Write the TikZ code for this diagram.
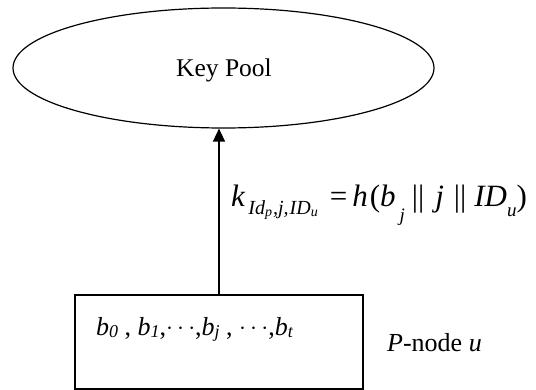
\documentclass[tikz,border=0pt]{standalone}
\usepackage{fontspec}
\setmainfont{Liberation Serif}
\usetikzlibrary{shapes.geometric,arrows.meta}
\newcommand{\lowsub}[3]{\raisebox{-#1pt}{\fontsize{#2}{#2}\selectfont\textit{#3}}}
\tikzset{
  line/.style={line width=1.4pt},
  poolshape/.style={ellipse, draw, line width=1.2pt, minimum width=421pt, minimum height=120pt, inner sep=0pt},
  boxshape/.style={rectangle, draw, line width=1.4pt, minimum width=288pt, minimum height=94pt, inner sep=0pt},
  lbl/.style={inner sep=0pt, anchor=base west, font=\fontsize{26}{30}\selectfont},
}
\begin{document}
\begin{tikzpicture}[x=1pt,y=-1pt]
\useasboundingbox (0,0) rectangle (536,390);
\node[poolshape] (pool) at (223.5,68) {};
\node[inner sep=0pt, font=\fontsize{25.5}{30}\selectfont] (pooltxt) at (224,70) {Key Pool};
\node[boxshape] (box) at (219,342) {};
\node[lbl] (bits) at (96,335)
  {\textit{b}\lowsub{2}{18}{0} , \textit{b}\lowsub{2}{18}{1},\raisebox{1pt}{$\cdots$},\textit{b}\lowsub{2}{18}{j} , \raisebox{1pt}{$\cdots$},\textit{b}\lowsub{2}{18}{t}};
\node[lbl] (pnode) at (387,352) {\textit{P}-node \textit{u}};
\node[lbl, font=\fontsize{31}{36}\selectfont] (formula) at (231,207)
  {\textit{k}\hspace{3pt}\raisebox{-8pt}{\fontsize{20}{20}\selectfont\textit{Id}\lowsub{2}{14}{p}\hspace{1pt}\textit{,j,}\hspace{1pt}\textit{ID}\lowsub{2}{14}{u}}\hspace{12pt}=\hspace{5pt}\textit{h}\hspace{2pt}(\textit{b}\hspace{4pt}\lowsub{15}{19}{j}\hspace{7pt}||\hspace{11pt}\textit{j}\hspace{10pt}||\hspace{8pt}\textit{ID}\lowsub{10}{19}{u})};
\draw[line, -{Triangle[length=13pt,width=12pt]}] (box.north) -- (box.north |- pool.south);
\end{tikzpicture}
\end{document}
